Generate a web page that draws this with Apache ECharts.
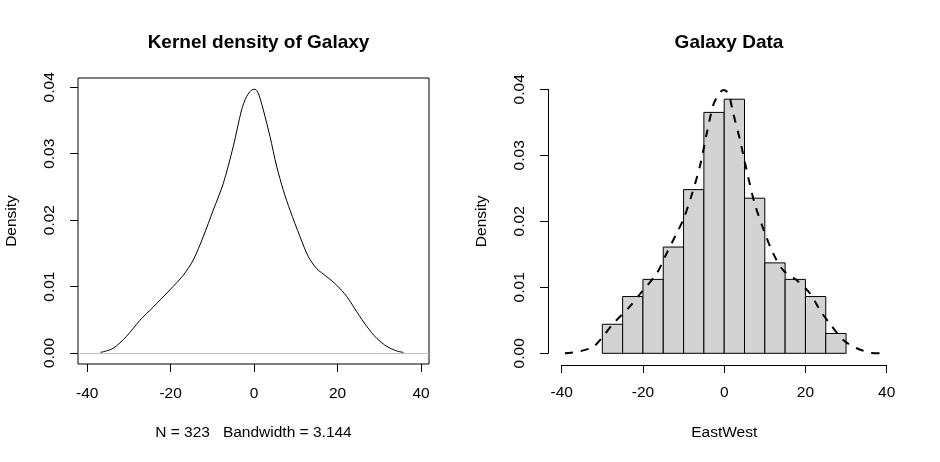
<!DOCTYPE html>
<html>
<head>
<meta charset="utf-8">
<script src="https://cdn.jsdelivr.net/npm/echarts@6/dist/echarts.min.js"></script>
<style>
  html, body { margin: 0; padding: 0; background: #fff; }
  #chart { width: 940px; height: 462px; }
</style>
</head>
<body>
<div id="chart"></div>
<script>
// kernel density of Galaxy (left panel)
var kdeX = [-36.8, -33.8, -30.6, -27.4, -24.2, -20.2, -17.0, -14.6, -12.2, -9.8, -7.4, -5.0, -3.0, -1.8, -0.6, 0.2, 1.0,
            2.2, 3.8, 5.4, 7.0, 8.6, 11.0, 13.0, 15.0, 17.4, 19.8, 22.2, 24.6, 27.0, 29.4, 31.8, 34.2, 35.8];
var kdeY = [0.0001, 0.0007, 0.0025, 0.0049, 0.0069, 0.0095, 0.0117, 0.0140, 0.0175, 0.0215, 0.0255, 0.0311, 0.0366, 0.0386, 0.0396, 0.0397, 0.0391,
            0.0366, 0.0326, 0.0281, 0.0245, 0.0215, 0.0175, 0.0145, 0.0127, 0.0115, 0.0102, 0.0085, 0.0062, 0.0040, 0.0022, 0.0010, 0.0003, 0.0001];

// histogram of EastWest (right panel)
var binStart = [-30, -25, -20, -15, -10, -5, 0, 5, 10, 15, 20, 25];
var binWidth = 5;
var binDensity = [0.0044, 0.0086, 0.0112, 0.0161, 0.0248, 0.0365, 0.0385, 0.0235, 0.0137, 0.0112, 0.0086, 0.0030];

// dashed density curve over the histogram
var densX = [-39.2, -35.5, -32.2, -29.9, -27.3, -23.2, -20.3, -16.6, -14.6, -11.7, -10.1, -8.0, -6.0, -4.3, -2.7, -1.5, -0.2,
             1.0, 2.2, 3.9, 5.5, 7.5, 9.6, 12.0, 14.5, 17.8, 21.1, 23.5, 26.0, 29.3, 32.5, 35.8, 38.3];
var densY = [0.0000, 0.0003, 0.0010, 0.0025, 0.0045, 0.0071, 0.0093, 0.0121, 0.0146, 0.0182, 0.0202, 0.0240, 0.0283, 0.0333, 0.0376, 0.0391, 0.0399,
             0.0394, 0.0364, 0.0323, 0.0278, 0.0227, 0.0189, 0.0152, 0.0126, 0.0111, 0.0091, 0.0066, 0.0045, 0.0020, 0.0008, 0.0001, 0.0000];

var xTicks = [-40, -20, 0, 20, 40];
var yTicks = [0, 0.01, 0.02, 0.03, 0.04];

function zip(xs, ys) {
    return xs.map(function (x, i) { return [x, ys[i]]; });
}

var histData = binStart.map(function (s, i) { return [s, s + binWidth, binDensity[i]]; });

var FONT = 'Liberation Sans, Arial, sans-serif';
var txt = { color: '#000', fontFamily: FONT, fontSize: 15.5 };

var chart = echarts.init(document.getElementById('chart'), null, { renderer: 'canvas' });

var option = {
    backgroundColor: '#fff',
    animation: false,
    textStyle: { fontFamily: FONT },
    title: [{
        text: 'Kernel density of Galaxy',
        left: 253.5, top: 28, textAlign: 'center',
        textStyle: { color: '#000', fontFamily: FONT, fontSize: 19, fontWeight: 'bold' }
    }, {
        text: 'Galaxy Data',
        left: 724, top: 28, textAlign: 'center',
        textStyle: { color: '#000', fontFamily: FONT, fontSize: 19, fontWeight: 'bold' }
    }],
    grid: [
        { left: 78, top: 78, width: 351, height: 286, show: true, borderColor: '#000', borderWidth: 1, backgroundColor: 'transparent' },
        { left: 561.7, top: 89.3, width: 325, height: 264 }
    ],
    xAxis: [{
        gridIndex: 0, type: 'value', min: -42.2, max: 41.9,
        name: 'N = 323   Bandwidth = 3.144', nameLocation: 'middle', nameGap: 61, nameTextStyle: txt,
        axisLine: { show: false, onZero: false },
        axisTick: { show: true, length: 8, lineStyle: { color: '#000' }, customValues: xTicks },
        axisLabel: Object.assign({ margin: 22, customValues: xTicks }, txt),
        splitLine: { show: false }
    }, {
        gridIndex: 1, type: 'value', min: -40, max: 40, interval: 20, offset: 11.7,
        name: 'EastWest', nameLocation: 'middle', nameGap: 60, nameTextStyle: txt,
        axisLine: { show: true, onZero: false, lineStyle: { color: '#000', width: 1 } },
        axisTick: { show: true, length: 8, lineStyle: { color: '#000' } },
        axisLabel: Object.assign({ margin: 20 }, txt),
        splitLine: { show: false }
    }],
    yAxis: [{
        gridIndex: 0, type: 'value', min: -0.00165, max: 0.0414,
        name: 'Density', nameLocation: 'middle', nameGap: 58, nameTextStyle: txt,
        axisLine: { show: false, onZero: false },
        axisTick: { show: true, length: 8, lineStyle: { color: '#000' }, customValues: yTicks },
        axisLabel: Object.assign({ margin: 20, rotate: 90, customValues: yTicks,
            formatter: function (v) { return v.toFixed(2); } }, txt),
        splitLine: { show: false }
    }, {
        gridIndex: 1, type: 'value', min: 0, max: 0.04, interval: 0.01, offset: 13.7,
        name: 'Density', nameLocation: 'middle', nameGap: 58, nameTextStyle: txt,
        axisLine: { show: true, onZero: false, lineStyle: { color: '#000', width: 1 } },
        axisTick: { show: true, length: 8, lineStyle: { color: '#000' } },
        axisLabel: Object.assign({ margin: 20, rotate: 90,
            formatter: function (v) { return v.toFixed(2); } }, txt),
        splitLine: { show: false }
    }],
    series: [{
        type: 'line',
        xAxisIndex: 0, yAxisIndex: 0,
        data: zip(kdeX, kdeY),
        smooth: 0.3,
        showSymbol: false,
        lineStyle: { color: '#000', width: 1 },
        markLine: {
            silent: true, symbol: 'none', label: { show: false },
            lineStyle: { color: '#BEBEBE', type: 'solid', width: 1 },
            data: [{ yAxis: 0 }]
        }
    }, {
        type: 'custom',
        xAxisIndex: 1, yAxisIndex: 1,
        data: histData,
        encode: { x: [0, 1], y: 2 },
        renderItem: function (params, api) {
            var p0 = api.coord([api.value(0), api.value(2)]);
            var p1 = api.coord([api.value(1), 0]);
            return {
                type: 'rect',
                shape: { x: p0[0], y: p0[1], width: p1[0] - p0[0], height: p1[1] - p0[1] },
                style: { fill: '#D3D3D3', stroke: '#000', lineWidth: 1 }
            };
        }
    }, {
        type: 'line',
        xAxisIndex: 1, yAxisIndex: 1,
        data: zip(densX, densY),
        smooth: 0.3,
        showSymbol: false,
        clip: false,
        lineStyle: { color: '#000', width: 2, type: [8, 8] },
        z: 5
    }]
};

chart.setOption(option);
</script>
</body>
</html>
